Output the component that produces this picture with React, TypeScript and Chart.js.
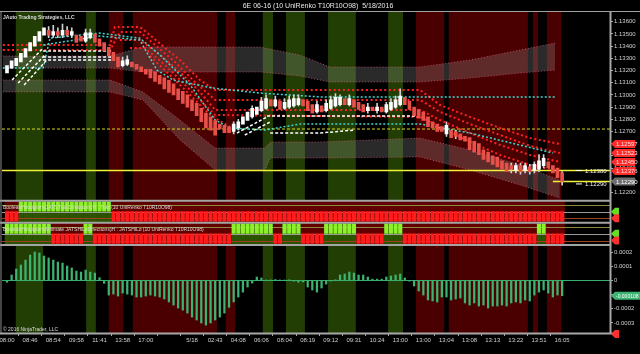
import React, { useEffect, useRef } from "react";
import { Chart, registerables } from "chart.js";

Chart.register(...registerables);

const FONT = '"Liberation Sans", Arial, sans-serif';

// ---------- data ----------
const TITLE = "6E 06-16 (10 UniRenko T10R10O98)  5/18/2016";
const X_LABELS = ["08:00", "08:46", "08:54", "09:58", "11:41", "13:58", "17:00", "", "5/18", "02:43", "04:08", "06:06", "08:04", "08:19", "09:12", "09:31", "10:24", "13:00", "13:00", "13:04", "13:08", "13:13", "13:22", "13:51", "16:05"];
const LABEL_EVERY = 5;

const OPEN = [
  1.1318, 1.1322, 1.1324, 1.1327, 1.1331, 1.1336, 1.1340, 1.1344, 1.1349, 1.1353,
  1.1349, 1.1352, 1.1349, 1.1353, 1.1349, 1.1349, 1.1348, 1.1344, 1.1347, 1.1350,
  1.1346, 1.1343, 1.1339, 1.1335, 1.1331, 1.1324, 1.1325, 1.1327, 1.1325, 1.1323,
  1.1321, 1.1321, 1.1319, 1.1316, 1.1314, 1.1312, 1.1309, 1.1305, 1.1303, 1.1300,
  1.1296, 1.1293, 1.1289, 1.1285, 1.1282, 1.1279, 1.1276, 1.1275, 1.1274, 1.1270,
  1.1273, 1.1276, 1.1279, 1.1282, 1.1284, 1.1287, 1.1289, 1.1296, 1.1291, 1.1295,
  1.1289, 1.1290, 1.1291, 1.1292, 1.1296, 1.1295, 1.1292, 1.1286, 1.1291, 1.1287,
  1.1289, 1.1291, 1.1292, 1.1297, 1.1292, 1.1296, 1.1294, 1.1292, 1.1287, 1.1290,
  1.1287, 1.1290, 1.1286, 1.1288, 1.1290, 1.1292, 1.1298, 1.1295, 1.1290, 1.1288,
  1.1286, 1.1282, 1.1278, 1.1276, 1.1274, 1.1268, 1.1271, 1.1270, 1.1268, 1.1266,
  1.1265, 1.1262, 1.1260, 1.1255, 1.1253, 1.1250, 1.1249, 1.1246, 1.1244, 1.1242,
  1.1238, 1.1242, 1.1238, 1.1241, 1.1238, 1.1239, 1.1242, 1.1245, 1.1242, 1.1240,
  1.1236,
];
const CLOSE = [
  1.1324, 1.1328, 1.1330, 1.1334, 1.1338, 1.1343, 1.1348, 1.1352, 1.1355, 1.1349,
  1.1352, 1.1349, 1.1353, 1.1349, 1.1352, 1.1343, 1.1344, 1.1351, 1.1351, 1.1343,
  1.1340, 1.1336, 1.1332, 1.1328, 1.1323, 1.1328, 1.1329, 1.1323, 1.1321, 1.1319,
  1.1317, 1.1314, 1.1311, 1.1309, 1.1305, 1.1302, 1.1300, 1.1296, 1.1293, 1.1290,
  1.1287, 1.1283, 1.1278, 1.1273, 1.1271, 1.1267, 1.1272, 1.1269, 1.1269, 1.1276,
  1.1278, 1.1282, 1.1286, 1.1289, 1.1290, 1.1295, 1.1297, 1.1291, 1.1296, 1.1288,
  1.1294, 1.1296, 1.1297, 1.1297, 1.1291, 1.1287, 1.1285, 1.1292, 1.1286, 1.1293,
  1.1296, 1.1298, 1.1298, 1.1292, 1.1297, 1.1290, 1.1288, 1.1286, 1.1290, 1.1287,
  1.1290, 1.1286, 1.1292, 1.1294, 1.1296, 1.1299, 1.1292, 1.1288, 1.1283, 1.1281,
  1.1279, 1.1274, 1.1273, 1.1270, 1.1270, 1.1275, 1.1265, 1.1266, 1.1263, 1.1262,
  1.1255, 1.1253, 1.1251, 1.1247, 1.1245, 1.1243, 1.1241, 1.1239, 1.1237, 1.1239,
  1.1242, 1.1237, 1.1242, 1.1237, 1.1243, 1.1246, 1.1248, 1.1240, 1.1236, 1.1232,
  1.1229,
];
// [bar, high, low]
const WICKS = [
  [9, 1.1356, 1.1347], [10, 1.1357, 1.1347], [11, 1.1355, 1.1347], [12, 1.1358, 1.1347], [13, 1.1356, 1.1348],
  [14, 1.1355, 1.1347], [17, 1.1354, 1.1343], [18, 1.1354, 1.1346], [25, 1.1331, 1.1323], [26, 1.1332, 1.1324],
  [49, 1.1278, 1.1268], [50, 1.1280, 1.1271], [53, 1.1291, 1.1281], [55, 1.1298, 1.1286], [56, 1.1300, 1.1288],
  [58, 1.1299, 1.1290], [60, 1.1297, 1.1288], [61, 1.1299, 1.1289], [62, 1.1300, 1.1290], [63, 1.1300, 1.1291],
  [67, 1.1295, 1.1285], [69, 1.1296, 1.1286], [70, 1.1299, 1.1288], [71, 1.1301, 1.1290], [72, 1.1300, 1.1291],
  [74, 1.1300, 1.1291], [78, 1.1293, 1.1285], [80, 1.1293, 1.1285], [82, 1.1294, 1.1285], [83, 1.1297, 1.1287],
  [84, 1.1299, 1.1289], [85, 1.1305, 1.1291], [95, 1.1278, 1.1266], [97, 1.1271, 1.1264], [109, 1.1244, 1.1236],
  [110, 1.1244, 1.1236], [111, 1.1244, 1.1235], [112, 1.1244, 1.1236], [113, 1.1243, 1.1235], [114, 1.1245, 1.1236],
  [115, 1.1251, 1.1237], [116, 1.1251, 1.1240], [120, 1.1237, 1.1226],
];

const OSC = [
  -0.000012, 0.000039, 0.000082, 0.00011, 0.000145, 0.000181, 0.000202, 0.000195, 0.000174, 0.00016,
  0.000145, 0.000131, 0.000124, 0.000103, 0.000089, 0.000067, 0.00006, 0.000074, 0.00006, 0.000053,
  0.00002, -0.00002, -0.000103, -0.000096, -0.00011, -0.000089, -0.000096, -0.000103, -0.000117, -0.000117,
  -0.00011, -0.000103, -0.00011, -0.000117, -0.000131, -0.000152, -0.000174, -0.000195, -0.00021, -0.000231,
  -0.000259, -0.00028, -0.000301, -0.000316, -0.000301, -0.00028, -0.000259, -0.000231, -0.00019, -0.000152,
  -0.000117, -0.000082, -0.000046, -0.000018, 0.000025, 0.000018, 0.000004, 0.000004, 0.000007, 0.000004,
  0.000003, 0.000005, -0.000005, -0.000012, -0.00001, -0.000046, -0.000067, -0.000082, -0.000053, -0.000025,
  -0.000004, 0.000005, 0.000039, 0.000046, 0.00006, 0.000053, 0.000039, 0.000039, 0.000025, 0.00001,
  0.00001, 0.00001, 0.000025, 0.000032, 0.000039, 0.000046, 0.000018, -0.000004, -0.000039, -0.000074,
  -0.000103, -0.000138, -0.000145, -0.000152, -0.000117, -0.000117, -0.000138, -0.000131, -0.000124, -0.000159,
  -0.000174, -0.000159, -0.000181, -0.000174, -0.000195, -0.000181, -0.000181, -0.000174, -0.000181, -0.000159,
  -0.000152, -0.000159, -0.000138, -0.000145, -0.000103, -0.000082, -0.000067, -0.000089, -0.000117, -0.000103,
  -0.000108,
];

// 1 = green state, 0 = red state (per bar)
const IND1 = ["0001111111", "1111111111", "1110000000", "0000000000", "0000000000", "0000000000", "0000000000",
  "0000000000", "0000000000", "0000000000", "0000000000", "0000000000", "0"].join("").split("").map(Number);
const IND2 = ["1111111111", "0000000110", "0000000000", "0000000000", "0000000001", "1111111100", "1111000001",
  "1111110000", "0011110000", "0000000000", "0000000000", "0000011000", "0"].join("").split("").map(Number);
const IND1_NAME = "BooleanHistogram(JATSTrail Directions)H : Trail (10 UniRenko T10R10O98)";
const IND2_NAME = "BooleanHistogram(Ultimate JATSHiLoDirections)H : JATSHiLo (10 UniRenko T10R10O98)";

// background session zones, in bar units [from, to]
const GREEN_ZONES = [[1.9, 7.8], [17.1, 19.2], [55.3, 57.5], [60.3, 64.4], [69.4, 75.4], [82.4, 85.6]];
const RED_ZONES = [[22, 25.1], [27.2, 45.4], [47.3, 49.3], [88.4, 94.5], [95.5, 112.6], [113.7, 114.8], [116.7, 119.8]];

// channels [bar, price]
const UPPER_TOP = [[-0.9, 1.13319], [22.3, 1.13319], [29.4, 1.13393], [54.7, 1.13393], [63.3, 1.13327], [69.8, 1.13229], [89.3, 1.13229], [100.1, 1.13286], [110.9, 1.13368], [118.5, 1.13425]];
const UPPER_BOT = [[-0.9, 1.1322], [22.3, 1.1322], [29.4, 1.13188], [54.7, 1.13188], [63.3, 1.13155], [69.8, 1.13106], [89.3, 1.13106], [100.1, 1.13138], [110.9, 1.13179], [118.5, 1.13204]];
const LOWER_TOP = [[-0.9, 1.13122], [22.3, 1.13122], [29.4, 1.13024], [37.4, 1.12794], [45, 1.12564], [55.8, 1.12564], [56.9, 1.12614], [67.7, 1.12614], [89.3, 1.12646], [100.1, 1.12548], [110.9, 1.12425], [119.5, 1.12302]];
const LOWER_BOT = [[-0.9, 1.13024], [22.3, 1.13024], [29.4, 1.12958], [37.4, 1.1263], [45, 1.12384], [55.8, 1.12384], [56.9, 1.12482], [67.7, 1.12482], [89.3, 1.12491], [100.1, 1.12384], [110.9, 1.12261], [119.5, 1.12154]];

const RED_1 = [[-0.9, 1.13409], [22.3, 1.13409], [23.3, 1.13557], [28.75, 1.13557], [30.9, 1.13491], [34.2, 1.13384], [37.4, 1.13286], [41.7, 1.13122], [45, 1.1304], [89.3, 1.1304], [93.6, 1.12917], [100.1, 1.12819], [106.6, 1.12728], [113.1, 1.12646], [119.5, 1.12597]];
const RED_2 = [[-0.9, 1.13368], [22.3, 1.13368], [24.4, 1.13516], [28.75, 1.13516], [32, 1.13409], [36.3, 1.1327], [40.6, 1.13106], [45, 1.12958], [89.3, 1.12958], [93.6, 1.1286], [100.1, 1.12761], [106.6, 1.12671], [113.1, 1.12581], [119.5, 1.12523]];
const RED_3 = [[24.4, 1.1345], [28.75, 1.1345], [33.1, 1.13327], [37.4, 1.13188], [41.7, 1.13024], [45, 1.12876], [89.3, 1.12876], [93.6, 1.12794], [100.1, 1.12687], [106.6, 1.12589], [113.1, 1.12507], [119.5, 1.1245]];
const RED_4 = [[26.6, 1.13384], [29.8, 1.13384], [34.2, 1.13245], [38.5, 1.13081], [42.8, 1.12917], [45, 1.12835], [89.3, 1.12819], [93.6, 1.12737], [100.1, 1.12614], [106.6, 1.12507], [113.1, 1.12425], [119.5, 1.12376]];
const RED_5 = [[30.9, 1.13319], [35.2, 1.13163], [39.6, 1.12999], [43.9, 1.12835], [48.2, 1.12737]];
const RED_LINES = [RED_1, RED_2, RED_3, RED_4, RED_5];
const RED_TAGGED = [RED_1, RED_2, RED_3, RED_4];

const CYAN_FAST = [[-0.9, 1.1322], [7.8, 1.1322], [9.3, 1.13466], [20.1, 1.13507], [28.7, 1.13466], [33.1, 1.13327], [39.6, 1.13081], [45, 1.12794], [48.2, 1.12728], [55.8, 1.12712], [63.3, 1.12761], [89.3, 1.12761], [100.1, 1.12687], [118, 1.12523]];
const CYAN_SLOW = [[7.8, 1.13409], [20.1, 1.13483], [28.7, 1.1345], [32.4, 1.13204], [35.9, 1.13122], [44.5, 1.13056], [54.7, 1.13015], [67.7, 1.12983], [118.5, 1.12983]];

const WHITE_LINES = [
  [[7.8, 1.1336], [22.9, 1.1336]],
  [[7.8, 1.13311], [22.9, 1.13311]],
  [[7.8, 1.13286], [22.9, 1.13286]],
  [[1.1, 1.13122], [7.8, 1.13384]],
  [[2.4, 1.13097], [8.2, 1.13327]],
  [[3.7, 1.13081], [8.6, 1.13286]],
  [[56.2, 1.12827], [89.3, 1.12827]],
  [[56.9, 1.12687], [67.7, 1.12687], [75.2, 1.12712]],
  [[49.7, 1.12687], [56.2, 1.12819]],
  [[51.4, 1.12671], [56.9, 1.12778]],
];

const YELLOW_DASH = 1.1272;
const YELLOW_SOLID = 1.1238;
const LAST_PRICE = 1.1229;
const LAST_LINE_FROM = 118;

// ---------- axes ----------
const X_MIN = -1.08;
const X_MAX = 130.35;
const P_MIN = 1.12132;
const P_MAX = 1.1368;
const O_MIN = -0.000372;
const O_MAX = 0.000252;

// ---------- styles ----------
const ZONE_GREEN = "#223e04";
const ZONE_RED = "#4a0000";
const IND_BG_GREEN = "#2c5400";
const IND_BG_RED = "#620000";

const fitWidth = (s: any) => { s.width = 30; s.paddingTop = 0; s.paddingBottom = 0; };

function lineDs(pts: number[][], color: string, width: number, dash: number[], order: number, extra: any = {}) {
  return {
    type: "line",
    data: pts.map(([x, y]) => ({ x, y })),
    yAxisID: "yP",
    borderColor: color,
    borderWidth: width,
    borderDash: dash,
    pointRadius: 0,
    tension: 0,
    fill: false,
    order,
    ...extra,
  };
}

const panelPlugin = {
  id: "panels",
  beforeDraw(chart: any) {
    const { ctx, scales, chartArea } = chart;
    const x = scales.x, yP = scales.yP, yB1 = scales.yB1, yB2 = scales.yB2, yO = scales.yO;
    const px = (v: number) => x.getPixelForValue(v);
    ctx.save();
    ctx.fillStyle = "#000";
    ctx.fillRect(0, 0, chart.width, chart.height);
    const zones = (list: number[][], color: string) => {
      ctx.fillStyle = color;
      for (const [a, b] of list) {
        const x0 = px(a), x1 = px(b);
        ctx.fillRect(x0, yP.top, x1 - x0, yP.bottom - yP.top);
        ctx.fillRect(x0, yO.top, x1 - x0, yO.bottom - yO.top);
      }
    };
    zones(GREEN_ZONES, ZONE_GREEN);
    zones(RED_ZONES, ZONE_RED);
    const panels: any[] = [[IND1, yB1], [IND2, yB2]];
    for (const [states, ys] of panels) {
      for (let i = 0; i < states.length; i++) {
        const x0 = px(i - 0.5), x1 = px(i + 0.5);
        ctx.fillStyle = states[i] ? IND_BG_GREEN : IND_BG_RED;
        ctx.fillRect(x0, ys.top, x1 - x0 + 0.4, ys.bottom - ys.top);
      }
      const levels: any[] = [[0.8, "#8c8a3c"], [0.5, "#9a9a9a"], [0.2, "#a0401e"]];
      for (const [v, c] of levels) {
        const yy = Math.round(ys.getPixelForValue(v)) + 0.5;
        ctx.strokeStyle = c;
        ctx.lineWidth = 1;
        ctx.beginPath();
        ctx.moveTo(chartArea.left, yy);
        ctx.lineTo(chartArea.right, yy);
        ctx.stroke();
      }
    }
    ctx.restore();
  },
  afterDatasetsDraw(chart: any) {
    const { ctx, scales, chartArea } = chart;
    const yP = scales.yP, yB1 = scales.yB1, yB2 = scales.yB2, yO = scales.yO;
    const R = chartArea.right;
    ctx.save();
    const hline = (y: number, x0: number, x1: number, c: string, w: number) => {
      ctx.strokeStyle = c; ctx.lineWidth = w; ctx.beginPath(); ctx.moveTo(x0, y); ctx.lineTo(x1, y); ctx.stroke();
    };
    const vline = (x: number, y0: number, y1: number, c: string, w: number) => {
      ctx.strokeStyle = c; ctx.lineWidth = w; ctx.beginPath(); ctx.moveTo(x, y0); ctx.lineTo(x, y1); ctx.stroke();
    };
    // panel separators & frame
    for (const s of [yP, yB1, yB2]) hline(s.bottom, 0, R, "#a4a4a4", 2);
    hline(11.5, 0, 640, "#a0a0a0", 1);
    vline(1, chartArea.top, chartArea.bottom, "#8a8a8a", 1);
    vline(R + 0.5, chartArea.top, chartArea.bottom, "#a8a8a8", 2);
    hline(chartArea.bottom + 0.5, 0, R + 6, "#a8a8a8", 2);

    // tags on the right axis
    const tag = (y: number, text: string, bg: string, fg: string, w = 24, size = 6) => {
      const x0 = R + 1;
      ctx.fillStyle = bg;
      ctx.beginPath();
      ctx.moveTo(x0, y);
      ctx.lineTo(x0 + 4, y - 4);
      ctx.lineTo(x0 + w, y - 4);
      ctx.lineTo(x0 + w, y + 4);
      ctx.lineTo(x0 + 4, y + 4);
      ctx.closePath();
      ctx.fill();
      if (text) {
        ctx.fillStyle = fg;
        ctx.font = `${size}px ${FONT}`;
        ctx.textAlign = "left";
        ctx.textBaseline = "middle";
        ctx.fillText(text, x0 + 5, y + 0.5);
      }
    };
    for (const ln of RED_TAGGED) {
      const v = ln[ln.length - 1][1];
      tag(yP.getPixelForValue(v), v.toFixed(5), "#ff2a2a", "#ffe0e0");
    }
    tag(yP.getPixelForValue(LAST_PRICE), LAST_PRICE.toFixed(5), "#6e6e6e", "#ffffff");
    const oLast = OSC[OSC.length - 1];
    tag(yO.getPixelForValue(oLast), oLast.toFixed(6), "#3cb371", "#ffffff", 29, 5);
    for (const ys of [yB1, yB2]) {
      tag(ys.getPixelForValue(0.5), "", "#66dd22", "#fff", 8);
      tag(ys.getPixelForValue(0.2), "", "#ff3030", "#fff", 8);
    }
    tag(chartArea.bottom + 1, "", "#ff3030", "#fff", 8);

    // price notes beside the horizontal lines
    ctx.font = `6px ${FONT}`;
    ctx.textBaseline = "middle";
    ctx.textAlign = "left";
    const note = (v: number, dy: number) => {
      const yy = yP.getPixelForValue(v) + dy;
      hline(yy, 576, 582, "#ffffff", 1);
      ctx.fillStyle = "#f0f0f0";
      ctx.fillText(v.toFixed(5), 585, yy + 0.5);
    };
    note(YELLOW_SOLID, 0);
    note(LAST_PRICE, 2.5);

    // texts
    ctx.fillStyle = "#e6e6e6";
    ctx.font = `7px ${FONT}`;
    ctx.textAlign = "center";
    ctx.fillText(TITLE, 318, 6);
    ctx.textAlign = "left";
    ctx.font = `bold 5px ${FONT}`;
    ctx.fillStyle = "#dcdcdc";
    ctx.fillText("JAuto Trading Strategies, LLC", 3, 17.5);
    ctx.font = `5px ${FONT}`;
    ctx.fillText("\u00a9 2016 NinjaTrader, LLC", 3, chartArea.bottom - 3.5);
    ctx.fillStyle = "#d8d8d8";
    ctx.fillText(IND1_NAME, 3, yB1.top + 6.5);
    ctx.fillText(IND2_NAME, 3, yB2.top + 6.5);
    ctx.restore();
  },
};

function buildConfig() {
  const bodyColor = OPEN.map((o, i) => (CLOSE[i] >= o ? "#ffffff" : "#e8504a"));
  const boxes = (states: number[], want: number, range: number[]) =>
    states.map((s, i) => (s === want ? { x: i, y: range } : null)).filter(Boolean);

  const datasets: any[] = [
    // channels
    lineDs(UPPER_TOP, "rgba(215,90,120,0.75)", 1, [1, 2], 100),
    lineDs(UPPER_BOT, "rgba(215,90,120,0.75)", 1, [1, 2], 100, { fill: "-1", backgroundColor: "rgba(150,150,150,0.28)" }),
    lineDs(LOWER_TOP, "rgba(215,90,120,0.75)", 1, [1, 2], 100),
    lineDs(LOWER_BOT, "rgba(215,90,120,0.75)", 1, [1, 2], 100, { fill: "-1", backgroundColor: "rgba(150,150,150,0.28)" }),
    // horizontal levels
    lineDs([[X_MIN, YELLOW_DASH], [X_MAX, YELLOW_DASH]], "#d8d820", 1, [3, 2], 80),
    lineDs([[X_MIN, YELLOW_SOLID], [X_MAX, YELLOW_SOLID]], "#f2f23a", 1.5, [], 80),
    lineDs([[LAST_LINE_FROM, LAST_PRICE], [X_MAX, LAST_PRICE]], "#f2f23a", 1.5, [], 80),
    ...RED_LINES.map((l) => lineDs(l, "#ff2020", 2, [2, 2.6], 60)),
    lineDs(CYAN_SLOW, "#3fd8d0", 1.5, [2, 2], 50),
    lineDs(CYAN_FAST, "#3fd8d0", 1.5, [2, 2], 50),
    ...WHITE_LINES.map((l) => lineDs(l, "#ffffff", 1.5, [3, 2], 45)),
    // candles
    {
      type: "bar", yAxisID: "yP", order: 30, grouped: false, barThickness: 1,
      data: WICKS.map(([i, h, l]) => ({ x: i, y: [l, h] })),
      backgroundColor: "#d0d0d0",
    },
    {
      type: "bar", yAxisID: "yP", order: 20, grouped: false, barThickness: 3,
      data: OPEN.map((o, i) => ({ x: i, y: [o, CLOSE[i]] })),
      backgroundColor: bodyColor,
    },
    // indicator panels
    { type: "bar", yAxisID: "yB1", order: 10, grouped: false, barThickness: 3.4, data: boxes(IND1, 1, [0.52, 0.94]), backgroundColor: "#8cf02a" },
    { type: "bar", yAxisID: "yB1", order: 10, grouped: false, barThickness: 3.4, data: boxes(IND1, 0, [0.07, 0.5]), backgroundColor: "#ff1c1c" },
    { type: "bar", yAxisID: "yB2", order: 10, grouped: false, barThickness: 3.4, data: boxes(IND2, 1, [0.52, 0.94]), backgroundColor: "#8cf02a" },
    { type: "bar", yAxisID: "yB2", order: 10, grouped: false, barThickness: 3.4, data: boxes(IND2, 0, [0.07, 0.5]), backgroundColor: "#ff1c1c" },
    // oscillator
    {
      type: "line", yAxisID: "yO", order: 5, data: [{ x: X_MIN, y: 0 }, { x: X_MAX, y: 0 }],
      borderColor: "#3cb371", borderWidth: 1, pointRadius: 0, fill: false,
    },
    {
      type: "bar", yAxisID: "yO", order: 8, grouped: false, barThickness: 1.6,
      data: OSC.map((v, i) => ({ x: i, y: v })), backgroundColor: "#3cb371",
    },
  ];

  const tickFont = { size: 6, family: FONT };
  return {
    type: "line",
    data: { datasets },
    plugins: [panelPlugin],
    options: {
      animation: false,
      responsive: false,
      devicePixelRatio: 1,
      events: [],
      layout: { padding: { top: 12, left: 2, right: 0, bottom: 0 } },
      plugins: { legend: { display: false }, tooltip: { enabled: false }, title: { display: false } },
      scales: {
        x: {
          type: "linear", position: "bottom", min: X_MIN, max: X_MAX, offset: false,
          ticks: {
            stepSize: LABEL_EVERY, includeBounds: false, autoSkip: false, maxRotation: 0, minRotation: 0,
            maxTicksLimit: 100, font: tickFont, color: "#d0d0d0", padding: 1,
            callback: (v: number) => {
              const k = Math.round(v / LABEL_EVERY);
              return Math.abs(v - k * LABEL_EVERY) < 1e-6 && k >= 0 && k < X_LABELS.length ? X_LABELS[k] : null;
            },
          },
          grid: {
            display: true, drawOnChartArea: false, drawTicks: true, tickLength: 3,
            color: (c: any) => (c.tick && c.tick.value <= (X_LABELS.length - 1) * LABEL_EVERY ? "#a8a8a8" : "rgba(0,0,0,0)"),
          },
          border: { display: false },
          afterFit: (s: any) => { s.height = 21; s.paddingLeft = 0; s.paddingRight = 0; },
        },
        yP: {
          type: "linear", position: "right", stack: "panes", stackWeight: 188.7, min: P_MIN, max: P_MAX,
          ticks: {
            stepSize: 0.001, includeBounds: false, autoSkip: false, maxTicksLimit: 100, font: tickFont, color: "#d0d0d0", padding: 1,
            callback: (v: number) => v.toFixed(5),
          },
          grid: { display: true, drawOnChartArea: false, drawTicks: true, tickLength: 3, color: "#a8a8a8" },
          border: { display: false },
          afterFit: fitWidth,
        },
        yB1: {
          type: "linear", position: "right", stack: "panes", stackWeight: 22, min: 0, max: 1,
          ticks: { display: false }, grid: { display: false }, border: { display: false },
          afterFit: fitWidth,
        },
        yB2: {
          type: "linear", position: "right", stack: "panes", stackWeight: 22.3, min: 0, max: 1,
          ticks: { display: false }, grid: { display: false }, border: { display: false },
          afterFit: fitWidth,
        },
        yO: {
          type: "linear", position: "right", stack: "panes", stackWeight: 88, min: O_MIN, max: O_MAX,
          ticks: {
            stepSize: 0.0001, includeBounds: false, autoSkip: false, maxTicksLimit: 100, font: tickFont, color: "#d0d0d0", padding: 1,
            callback: (v: number) => (Math.abs(v) < 1e-9 ? "0" : Math.abs(v + 0.0001) < 1e-9 ? "" : v.toFixed(4)),
          },
          grid: { display: true, drawOnChartArea: false, drawTicks: true, tickLength: 3, color: "#a8a8a8" },
          border: { display: false },
          afterFit: fitWidth,
        },
      },
    },
  };
}

export default function App() {
  const canvasRef = useRef<HTMLCanvasElement | null>(null);
  useEffect(() => {
    const canvas = canvasRef.current;
    if (!canvas) return;
    Chart.defaults.font.family = FONT;
    const chart = new Chart(canvas, buildConfig() as any);
    return () => chart.destroy();
  }, []);
  return (
    <div style={{ position: "fixed", left: 0, top: 0, width: 640, height: 354, background: "#000" }}>
      <canvas ref={canvasRef} width={640} height={354} style={{ display: "block", width: 640, height: 354 }} />
    </div>
  );
}
